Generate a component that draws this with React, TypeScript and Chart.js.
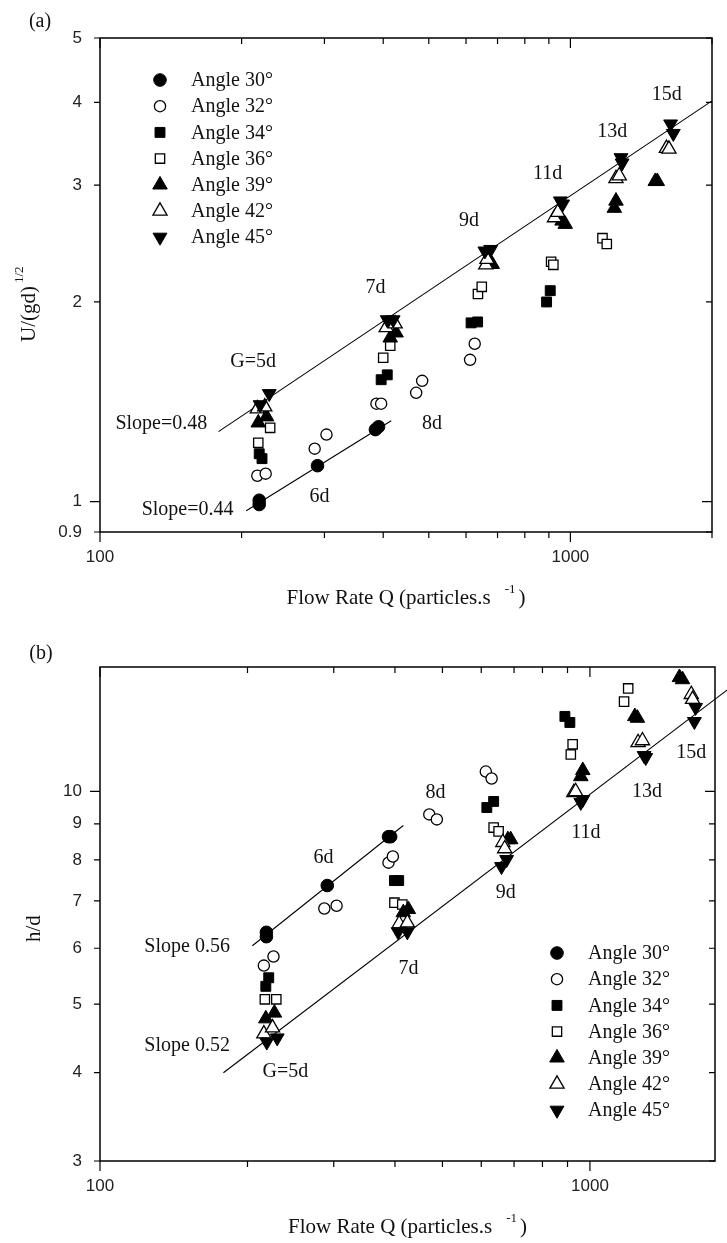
import React, { useEffect, useRef } from 'react';
import { Chart, registerables } from 'chart.js';

Chart.register(...registerables);

// ---------- shared ----------
const ANGLE_LABELS = ['Angle 30°', 'Angle 32°', 'Angle 34°', 'Angle 36°', 'Angle 39°', 'Angle 42°', 'Angle 45°'];

// ---------- panel (a): U/(gd)^1/2 vs Q ----------
const A_Q30 = [218, 218, 290, 385, 391];
const A_U30 = [1.005, 0.99, 1.133, 1.284, 1.297];
const A_Q32 = [216, 225, 286, 303, 387, 396, 470, 484, 612, 626];
const A_U32 = [1.094, 1.102, 1.202, 1.262, 1.405, 1.405, 1.459, 1.521, 1.636, 1.73];
const A_Q34 = [218, 221, 396, 408, 615, 635, 890, 906];
const A_U34 = [1.181, 1.161, 1.527, 1.553, 1.86, 1.866, 2.0, 2.08];
const A_Q36 = [217, 230, 400, 414, 636, 648, 910, 920, 1170, 1195];
const A_U36 = [1.227, 1.292, 1.648, 1.718, 2.056, 2.108, 2.3, 2.275, 2.496, 2.446];
const A_Q39 = [217, 226, 414, 426, 672, 682, 960, 975, 1240, 1250, 1515, 1530];
const A_U39 = [1.315, 1.343, 1.766, 1.797, 2.3, 2.28, 2.65, 2.62, 2.77, 2.84, 3.04, 3.04];
const A_Q42 = [216, 224, 406, 424, 661, 665, 925, 940, 1250, 1270, 1600, 1620];
const A_U42 = [1.38, 1.39, 1.83, 1.854, 2.275, 2.32, 2.68, 2.73, 3.07, 3.1, 3.41, 3.4];
const A_Q45 = [219, 229, 408, 420, 658, 677, 952, 963, 1281, 1288, 1633, 1655];
const A_U45 = [1.4, 1.455, 1.88, 1.88, 2.387, 2.4, 2.84, 2.81, 3.3, 3.24, 3.71, 3.59];

const A_FIT1_Q = [178.6, 2000];
const A_FIT1_U = [1.275, 4.02];
const A_FIT2_Q = [204.6, 416];
const A_FIT2_U = [0.969, 1.324];

const A_X_TICKS = [100, 200, 300, 400, 500, 600, 700, 800, 900, 1000, 2000];
const A_X_LABELED = [100, 1000];
const A_Y_TICKS = [0.9, 1, 2, 3, 4, 5];
const A_Y_MAJOR = [1];

const A_NOTE_TEXT = ['G=5d', '6d', '7d', '8d', '9d', '11d', '13d', '15d', 'Slope=0.48', 'Slope=0.44'];
const A_NOTE_Q = [211.6, 293, 385, 508, 609, 894, 1227, 1603, 135, 153.5];
const A_NOTE_V = [1.625, 1.017, 2.1, 1.31, 2.65, 3.12, 3.61, 4.1, 1.31, 0.972];

// ---------- panel (b): h/d vs Q ----------
const B_Q30 = [218.6, 218.6, 291, 388, 392];
const B_H30 = [6.32, 6.23, 7.36, 8.63, 8.63];
const B_Q32 = [216, 226, 287, 304, 388, 396, 470, 487, 613, 630];
const B_H32 = [5.67, 5.84, 6.83, 6.89, 7.93, 8.09, 9.28, 9.13, 10.67, 10.43];
const B_Q34 = [218, 221, 399, 407, 616, 636, 889, 910];
const B_H34 = [5.3, 5.45, 7.48, 7.48, 9.49, 9.68, 12.77, 12.52];
const B_Q36 = [217, 229, 399, 414, 636, 651, 914, 922, 1174, 1197];
const B_H36 = [5.08, 5.08, 6.96, 6.92, 8.89, 8.78, 11.28, 11.66, 13.4, 13.99];
const B_Q39 = [218, 227, 416, 426, 680, 689, 958, 967, 1235, 1250, 1523, 1545];
const B_H39 = [4.77, 4.86, 6.74, 6.81, 8.55, 8.55, 10.5, 10.71, 12.77, 12.7, 14.5, 14.4];
const B_Q42 = [216, 225, 408, 424, 664, 670, 927, 935, 1254, 1280, 1610, 1620];
const B_H42 = [4.54, 4.63, 6.5, 6.52, 8.47, 8.3, 9.97, 10.0, 11.73, 11.8, 13.72, 13.5];
const B_Q45 = [219, 230, 406, 424, 660, 676, 958, 967, 1290, 1300, 1634, 1643];
const B_H45 = [4.42, 4.48, 6.33, 6.33, 7.83, 8.01, 9.65, 9.74, 11.24, 11.17, 12.56, 13.15];

const B_FIT1_Q = [204.6, 416];
const B_FIT1_H = [6.05, 8.95];
const B_FIT2_Q = [178.6, 1915];
const B_FIT2_H = [4.0, 13.95];

const B_X_TICKS = [100, 200, 300, 400, 500, 600, 700, 800, 900, 1000];
const B_X_LABELED = [100, 1000];
const B_Y_TICKS = [3, 4, 5, 6, 7, 8, 9, 10];
const B_Y_MAJOR = [10];

const B_NOTE_TEXT = ['G=5d', '6d', '7d', '8d', '9d', '11d', '13d', '15d', 'Slope 0.56', 'Slope 0.52'];
const B_NOTE_Q = [239, 286, 426.5, 484, 673, 981, 1308, 1609, 150.6, 150.6];
const B_NOTE_V = [4.01, 8.06, 5.62, 9.97, 7.19, 8.75, 10.0, 11.36, 6.03, 4.37];

// ---------- styles ----------
type MarkerStyle = { shape: string; r: number; fill: boolean; rot: number };
const STYLES: MarkerStyle[] = [
  { shape: 'circle', r: 6.3, fill: true, rot: 0 },
  { shape: 'circle', r: 5.6, fill: false, rot: 0 },
  { shape: 'rect', r: 7, fill: true, rot: 0 },
  { shape: 'rect', r: 6.6, fill: false, rot: 0 },
  { shape: 'triangle', r: 8.4, fill: true, rot: 0 },
  { shape: 'triangle', r: 8.2, fill: false, rot: 0 },
  { shape: 'triangle', r: 8, fill: true, rot: 180 },
];

const SERIF = '"Liberation Serif", "Times New Roman", serif';
const SANS = '"Liberation Sans", Arial, sans-serif';

function drawMarker(ctx: CanvasRenderingContext2D, st: MarkerStyle, x: number, y: number) {
  ctx.save();
  ctx.beginPath();
  const r = st.r;
  if (st.shape === 'circle') {
    ctx.arc(x, y, r, 0, Math.PI * 2);
  } else if (st.shape === 'rect') {
    const s = r * Math.SQRT1_2;
    ctx.rect(x - s, y - s, 2 * s, 2 * s);
  } else {
    let rad = (st.rot * Math.PI) / 180;
    for (let i = 0; i < 3; i++) {
      const px = x + Math.sin(rad) * r;
      const py = y - Math.cos(rad) * r;
      if (i === 0) ctx.moveTo(px, py);
      else ctx.lineTo(px, py);
      rad += (2 * Math.PI) / 3;
    }
    ctx.closePath();
  }
  ctx.fillStyle = st.fill ? '#000' : '#fff';
  ctx.fill();
  ctx.lineWidth = st.fill ? 1 : 1.3;
  ctx.strokeStyle = '#000';
  ctx.stroke();
  ctx.restore();
}

function markerDataset(label: string, qs: number[], vs: number[], st: MarkerStyle) {
  return {
    label,
    data: qs.map((q, i) => ({ x: q, y: vs[i] })),
    showLine: false,
    pointStyle: st.shape,
    pointRadius: st.r,
    pointHoverRadius: st.r,
    pointRotation: st.rot,
    pointBackgroundColor: st.fill ? '#000' : '#fff',
    pointBorderColor: '#000',
    pointBorderWidth: st.fill ? 1 : 1.3,
    clip: false,
  };
}

function lineDataset(qs: number[], vs: number[]) {
  return {
    label: 'fit',
    data: qs.map((q, i) => ({ x: q, y: vs[i] })),
    showLine: true,
    borderColor: '#000',
    borderWidth: 1.1,
    pointRadius: 0,
    pointHoverRadius: 0,
    fill: false,
    clip: false,
  };
}

type Decor = {
  xTicks: number[];
  xMajor: number[];
  yTicks: number[];
  yMajor: number[];
  notes: { text: string[]; q: number[]; v: number[] };
  legDx: number;
  legDy: number;
  panel: string;
  panelX: number;
  panelY: number;
  xTitleY: number;
  yTitleX: number;
  yTitleBottom: number;
  yTitle: string;
  yTitleSup: string;
};

function makeDecor(cfg: Decor) {
  return {
    id: 'decor',
    afterDraw(chart: any) {
      const { ctx, chartArea: ca, scales } = chart;
      const xs = scales.x;
      const ys = scales.y;
      ctx.save();
      // frame
      ctx.strokeStyle = '#000';
      ctx.lineWidth = 1.5;
      ctx.strokeRect(ca.left, ca.top, ca.right - ca.left, ca.bottom - ca.top);
      // ticks
      ctx.lineWidth = 1.2;
      ctx.beginPath();
      for (const v of cfg.xTicks) {
        const px = xs.getPixelForValue(v);
        const L = cfg.xMajor.includes(v) ? 10 : 6;
        ctx.moveTo(px, ca.bottom);
        ctx.lineTo(px, ca.bottom + L);
        ctx.moveTo(px, ca.top);
        ctx.lineTo(px, ca.top + L);
      }
      for (const v of cfg.yTicks) {
        const py = ys.getPixelForValue(v);
        const L = cfg.yMajor.includes(v) ? 10 : 6;
        ctx.moveTo(ca.left, py);
        ctx.lineTo(ca.left - L, py);
        ctx.moveTo(ca.right, py);
        ctx.lineTo(ca.right - L, py);
      }
      ctx.stroke();

      // annotations
      ctx.fillStyle = '#111';
      ctx.font = `20px ${SERIF}`;
      ctx.textAlign = 'center';
      ctx.textBaseline = 'middle';
      cfg.notes.text.forEach((t, i) => {
        ctx.fillText(t, xs.getPixelForValue(cfg.notes.q[i]), ys.getPixelForValue(cfg.notes.v[i]));
      });

      // legend
      ctx.textAlign = 'left';
      ANGLE_LABELS.forEach((lab, i) => {
        const x = ca.left + cfg.legDx;
        const y = ca.top + cfg.legDy + i * 26.2;
        drawMarker(ctx, STYLES[i], x, y);
        ctx.fillStyle = '#111';
        ctx.font = `20px ${SERIF}`;
        ctx.fillText(lab, x + 31, y + 1);
      });

      // panel label
      ctx.textAlign = 'center';
      ctx.fillText(cfg.panel, cfg.panelX, cfg.panelY);

      // x title
      const main = 'Flow Rate Q (particles.s';
      ctx.font = `21px ${SERIF}`;
      const wMain = ctx.measureText(main).width;
      const wClose = ctx.measureText(')').width;
      ctx.font = `13px ${SERIF}`;
      const wSup = ctx.measureText('-1').width;
      const total = wMain + 14 + wSup + 3 + wClose;
      let sx = (ca.left + ca.right) / 2 - total / 2;
      ctx.textAlign = 'left';
      ctx.font = `21px ${SERIF}`;
      ctx.fillText(main, sx, cfg.xTitleY);
      sx += wMain + 14;
      ctx.font = `13px ${SERIF}`;
      ctx.fillText('-1', sx, cfg.xTitleY - 8);
      sx += wSup + 3;
      ctx.font = `21px ${SERIF}`;
      ctx.fillText(')', sx, cfg.xTitleY);

      // y title (rotated)
      ctx.save();
      ctx.translate(cfg.yTitleX, cfg.yTitleBottom);
      ctx.rotate(-Math.PI / 2);
      ctx.font = `21px ${SERIF}`;
      ctx.textAlign = 'left';
      ctx.fillText(cfg.yTitle, 0, 0);
      if (cfg.yTitleSup) {
        const w = ctx.measureText(cfg.yTitle).width;
        ctx.font = `13px ${SERIF}`;
        ctx.fillText(cfg.yTitleSup, w + 3, -9);
      }
      ctx.restore();

      ctx.restore();
    },
  };
}

function axisX(ticks: number[], labeled: number[], min: number, max: number, height: number) {
  return {
    type: 'logarithmic',
    position: 'bottom',
    min,
    max,
    afterBuildTicks: (s: any) => {
      s.ticks = ticks.map((v) => ({ value: v }));
    },
    afterFit: (s: any) => {
      s.height = height;
    },
    grid: { display: false, drawTicks: false, tickLength: 0 },
    border: { display: false },
    ticks: {
      autoSkip: false,
      maxRotation: 0,
      minRotation: 0,
      padding: 15,
      color: '#222',
      font: { family: SANS, size: 17 },
      callback: (v: any) => (labeled.includes(Number(v)) ? String(v) : ''),
    },
  };
}

function axisY(ticks: number[], min: number, max: number) {
  return {
    type: 'logarithmic',
    position: 'left',
    min,
    max,
    afterBuildTicks: (s: any) => {
      s.ticks = ticks.map((v) => ({ value: v }));
    },
    afterFit: (s: any) => {
      s.width = 100;
    },
    grid: { display: false, drawTicks: false, tickLength: 0 },
    border: { display: false },
    ticks: {
      autoSkip: false,
      padding: 18,
      color: '#222',
      font: { family: SANS, size: 17 },
      callback: (v: any) => String(v),
    },
  };
}

function configA(): any {
  const qs = [A_Q30, A_Q32, A_Q34, A_Q36, A_Q39, A_Q42, A_Q45];
  const vs = [A_U30, A_U32, A_U34, A_U36, A_U39, A_U42, A_U45];
  const markers = [6, 5, 4, 3, 2, 1, 0].map((i) => markerDataset(ANGLE_LABELS[i], qs[i], vs[i], STYLES[i]));
  return {
    type: 'scatter',
    data: { datasets: [...markers, lineDataset(A_FIT1_Q, A_FIT1_U), lineDataset(A_FIT2_Q, A_FIT2_U)] },
    options: {
      responsive: false,
      animation: false,
      devicePixelRatio: 1,
      events: [],
      layout: { padding: { left: 0, right: 12, top: 38, bottom: 0 } },
      plugins: { legend: { display: false }, tooltip: { enabled: false } },
      scales: {
        x: axisX(A_X_TICKS, A_X_LABELED, 100, 2000, 90),
        y: axisY(A_Y_TICKS, 0.9, 5),
      },
    },
    plugins: [
      makeDecor({
        xTicks: A_X_TICKS,
        xMajor: [100, 1000],
        yTicks: A_Y_TICKS,
        yMajor: A_Y_MAJOR,
        notes: { text: A_NOTE_TEXT, q: A_NOTE_Q, v: A_NOTE_V },
        legDx: 60,
        legDy: 42,
        panel: '(a)',
        panelX: 40,
        panelY: 22,
        xTitleY: 598,
        yTitleX: 29,
        yTitleBottom: 342,
        yTitle: 'U/(gd)',
        yTitleSup: '1/2',
      }),
    ],
  };
}

function configB(): any {
  const qs = [B_Q30, B_Q32, B_Q34, B_Q36, B_Q39, B_Q42, B_Q45];
  const vs = [B_H30, B_H32, B_H34, B_H36, B_H39, B_H42, B_H45];
  const markers = [6, 5, 4, 3, 2, 1, 0].map((i) => markerDataset(ANGLE_LABELS[i], qs[i], vs[i], STYLES[i]));
  return {
    type: 'scatter',
    data: { datasets: [...markers, lineDataset(B_FIT1_Q, B_FIT1_H), lineDataset(B_FIT2_Q, B_FIT2_H)] },
    options: {
      responsive: false,
      animation: false,
      devicePixelRatio: 1,
      events: [],
      layout: { padding: { left: 0, right: 12, top: 45, bottom: 0 } },
      plugins: { legend: { display: false }, tooltip: { enabled: false } },
      scales: {
        x: axisX(B_X_TICKS, B_X_LABELED, 100, 1800, 82),
        y: axisY(B_Y_TICKS, 3, 15),
      },
    },
    plugins: [
      makeDecor({
        xTicks: B_X_TICKS,
        xMajor: [100, 1000],
        yTicks: B_Y_TICKS,
        yMajor: B_Y_MAJOR,
        notes: { text: B_NOTE_TEXT, q: B_NOTE_Q, v: B_NOTE_V },
        legDx: 457,
        legDy: 286,
        panel: '(b)',
        panelX: 41,
        panelY: 32,
        xTitleY: 605,
        yTitleX: 34,
        yTitleBottom: 320,
        yTitle: 'h/d',
        yTitleSup: '',
      }),
    ],
  };
}

function Panel({ top, height, make }: { top: number; height: number; make: () => any }) {
  const ref = useRef<HTMLCanvasElement>(null);
  useEffect(() => {
    const chart = new Chart(ref.current as HTMLCanvasElement, make());
    return () => chart.destroy();
  }, []);
  return (
    <canvas
      ref={ref}
      width={727}
      height={height}
      style={{ position: 'absolute', left: 0, top, width: 727, height }}
    />
  );
}

export default function App() {
  return (
    <div style={{ position: 'absolute', left: 0, top: 0, width: 727, height: 1243, background: '#fff' }}>
      <Panel top={0} height={622} make={configA} />
      <Panel top={622} height={621} make={configB} />
    </div>
  );
}
